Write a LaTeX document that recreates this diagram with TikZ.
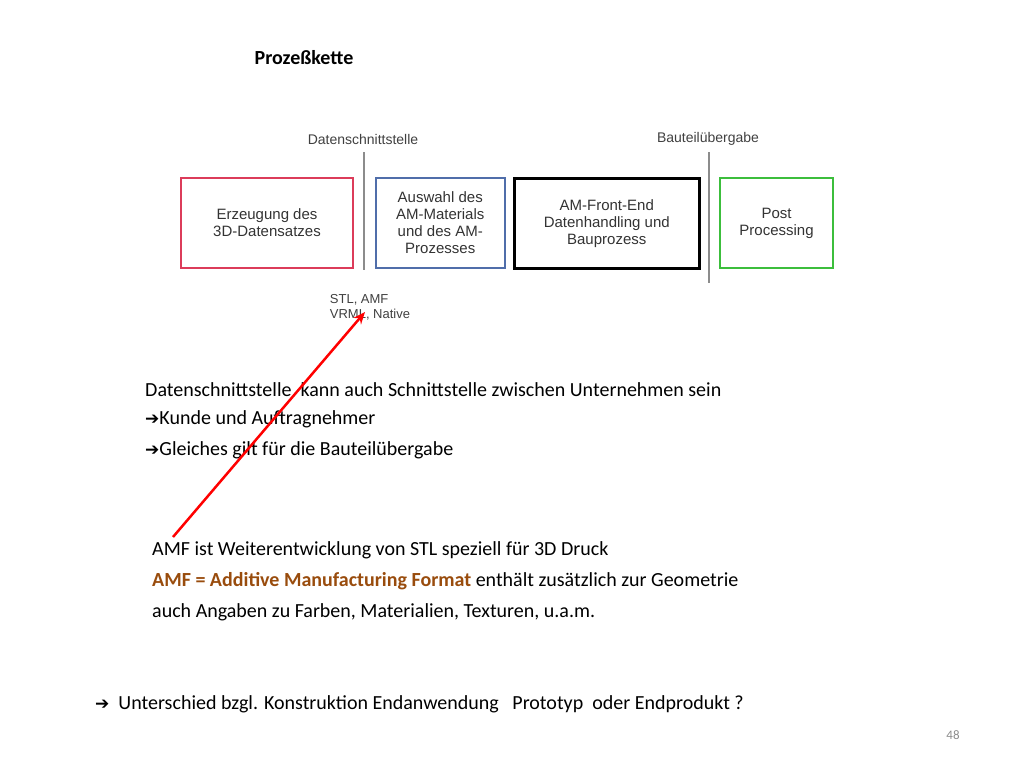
\documentclass[tikz,border=0pt]{standalone}
\usepackage{fontspec}
\usetikzlibrary{arrows.meta}
\setmainfont{Carlito}
\newfontfamily\arial{Liberation Sans}
\newfontfamily\djfont{DejaVu Sans}
\begin{document}
\begin{tikzpicture}[x=1pt,y=-1pt,
  box/.style={draw,line width=2pt,font=\arial\fontsize{15}{17}\selectfont,align=center,text=black!80,anchor=north west},
  txt/.style={anchor=west,inner sep=0pt,font=\fontsize{20}{24}\selectfont},
  lbl/.style={font=\arial\fontsize{14}{16}\selectfont,text=black!75},
  sep/.style={draw=black!45,line width=1.5pt}]
\useasboundingbox (0,0) rectangle (1024,768);
\node[font=\bfseries\fontsize{20}{24}\selectfont] (title) at (304,58) {Prozeßkette};
\node[lbl] (ds) at (363,139) {Datenschnittstelle};
\node[lbl] (bu) at (708,139) {Bauteilübergabe};
\node[box,draw={rgb,255:red,220;green,60;blue,90},minimum width=172pt,minimum height=90pt] (b1) at (180,177) {Erzeugung des\\3D-Datensatzes};
\node[box,draw={rgb,255:red,80;green,110;blue,170},minimum width=129pt,minimum height=90pt,line width=1.5pt] (b2) at (375,177) {Auswahl des\\AM-Materials\\und des AM-\\Prozesses};
\node[box,draw=black,line width=2.5pt,minimum width=185pt,minimum height=90pt] (b3) at (513,177) {AM-Front-End\\Datenhandling und\\Bauprozess};
\node[box,draw={rgb,255:red,60;green,190;blue,60},minimum width=113pt,minimum height=90pt] (b4) at (719,177) {Post\\Processing};
\draw[sep] (364,152) -- (364,270);
\draw[sep] (709,152) -- (709,283);
\node[lbl,font=\arial\fontsize{13}{15}\selectfont,align=left] (stl) at (370,307) {STL, AMF\\VRML, Native};
\node[txt] (t1) at (145,390) {Datenschnittstelle\ \ kann auch Schnittstelle zwischen Unternehmen sein};
\node[txt] (t2) at (145,419) {{\djfont\fontsize{17}{20}\selectfont ➔}Kunde und Auftragnehmer};
\node[txt] (t3) at (145,450) {{\djfont\fontsize{17}{20}\selectfont ➔}Gleiches gilt für die Bauteilübergabe};
\node[txt] (a1) at (152,550) {AMF ist Weiterentwicklung von STL speziell für 3D Druck};
\node[txt] (a2) at (152,581) {\textcolor[rgb]{0.6,0.3,0.05}{\bfseries AMF = Additive Manufacturing Format} enthält zusätzlich zur Geometrie};
\node[txt] (a3) at (152,612) {auch Angaben zu Farben, Materialien, Texturen, u.a.m.};
\node[txt] (last) at (95,704) {{\djfont\fontsize{17}{20}\selectfont ➔}\ \ Unterschied bzgl. Konstruktion Endanwendung \ \ Prototyp \ oder Endprodukt ?};
\node[font=\fontsize{13}{15}\selectfont,text=black!45] (pg) at (953,735) {48};
\coordinate (as) at (173,537);
\coordinate (ae) at (365,312);
\draw[red,line width=2.5pt,-{Stealth[length=12pt,width=10pt]}] (as) -- (ae);
\end{tikzpicture}
\end{document}
